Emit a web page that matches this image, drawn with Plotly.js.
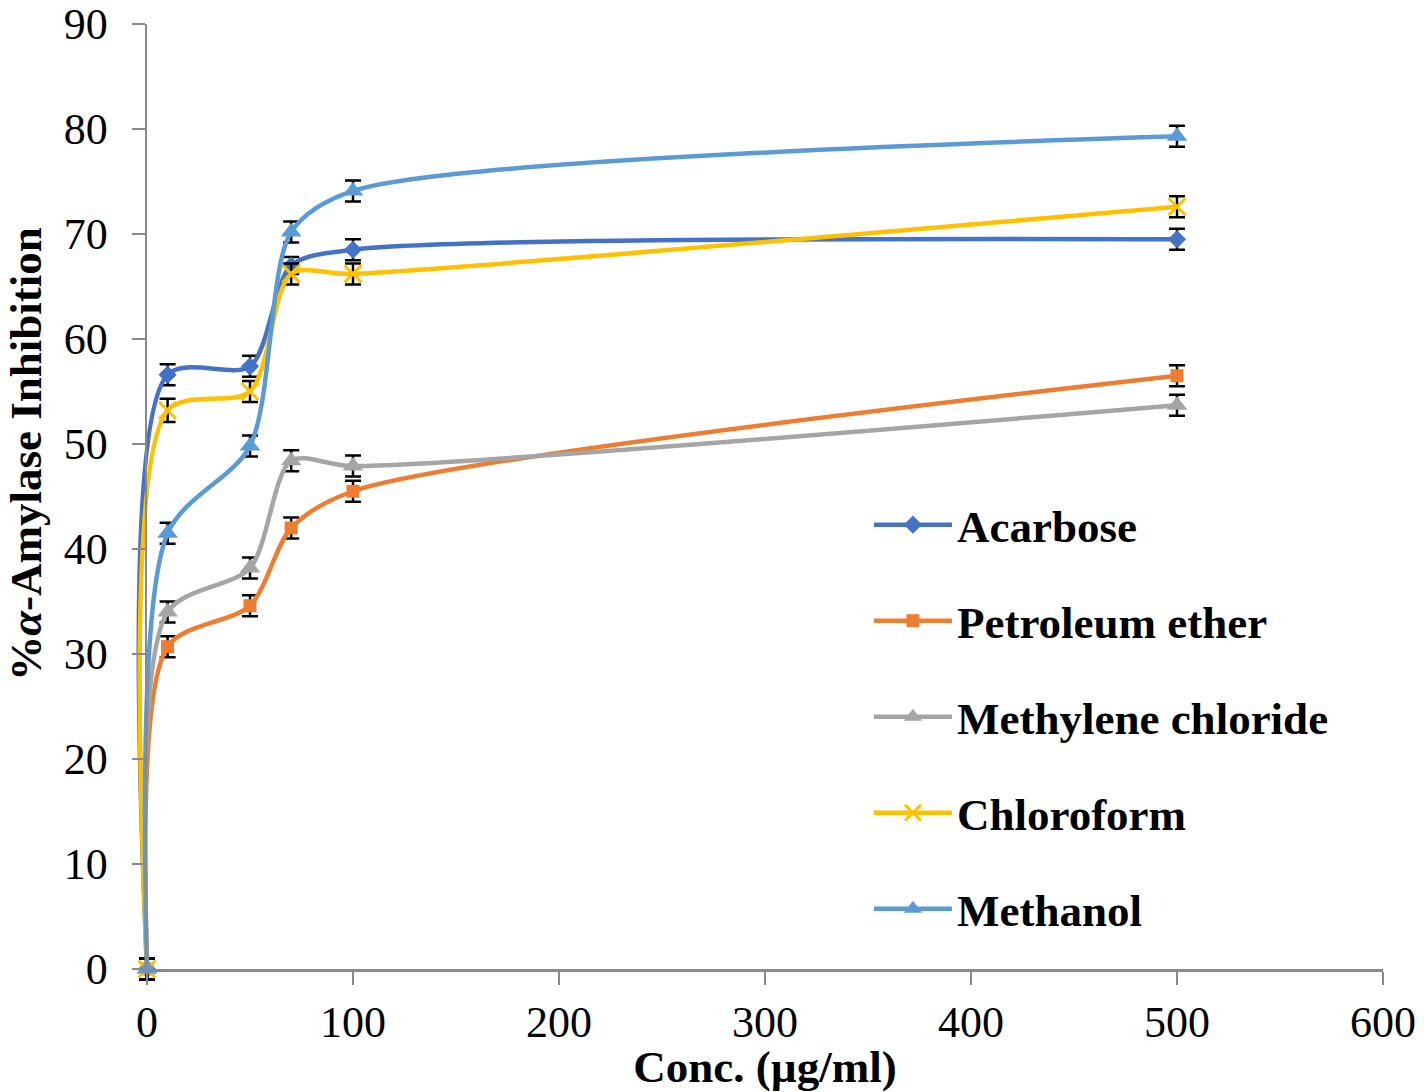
<!DOCTYPE html>
<html>
<head>
<meta charset="utf-8">
<script src="https://cdn.plot.ly/plotly-3.0.1.min.js"></script>
<style>html,body{margin:0;padding:0;background:#fff;}#chart{width:1424px;height:1092px;}</style>
</head>
<body>
<div id="chart"></div>
<script>
const conc = [0, 10, 50, 70, 100, 500];
const seriesNames = ["Acarbose", "Petroleum ether", "Methylene chloride", "Chloroform", "Methanol"];
const acarbose = [0, 56.6, 57.4, 67.0, 68.5, 69.5];
const petroleumEther = [0, 30.7, 34.6, 42.0, 45.5, 56.5];
const methyleneChloride = [0, 34.0, 38.2, 48.4, 47.9, 53.7];
const chloroform = [0, 53.2, 55.0, 66.2, 66.2, 72.6];
const methanol = [0, 41.5, 49.8, 70.2, 74.1, 79.3];
const errAcarbose = [1.0, 1.0, 1.0, 0.8, 1.0, 1.0];
const errPetroleumEther = [1.0, 1.0, 1.0, 1.0, 1.0, 1.0];
const errMethyleneChloride = [1.0, 1.0, 1.0, 1.0, 1.0, 1.0];
const errChloroform = [1.0, 1.1, 1.0, 1.0, 1.0, 1.0];
const errMethanol = [1.0, 1.0, 1.0, 1.0, 1.0, 1.0];
const xTickVals = [0, 100, 200, 300, 400, 500, 600];
const yTickVals = [0, 10, 20, 30, 40, 50, 60, 70, 80, 90];
const xTitle = "<b>Conc. (µg/ml)</b>";
const yTitle = "<b>%<i>α</i>-Amylase Inhibition</b>";

const values = [acarbose, petroleumEther, methyleneChloride, chloroform, methanol];
const errors = [errAcarbose, errPetroleumEther, errMethyleneChloride, errChloroform, errMethanol];
const colors = ["#4472C4", "#ED7D31", "#A5A5A5", "#FFC000", "#5B9BD5"];
const symbols = ["diamond", "square", "triangle-up", "x-thin-open", "triangle-up"];
const sizes = [14, 13, 18, 17, 18];

const traces = seriesNames.map((name, i) => ({
  type: "scatter",
  mode: "lines+markers",
  name: name,
  x: conc,
  y: values[i],
  legendgroup: "g" + i,
  cliponaxis: false,
  line: {color: colors[i], width: 4.5, shape: "spline", smoothing: 0.8},
  marker: {symbol: symbols[i], size: sizes[i], color: colors[i],
           line: {color: colors[i], width: symbols[i] === "x-thin-open" ? 3 : 0}},
  error_y: {type: "data", array: errors[i], visible: true, color: "#000000", thickness: 2.5, width: 8}
}));

const font = "Liberation Serif, Times New Roman, serif";
const axisColor = "#898989";
const layout = {
  width: 1424, height: 1092,
  margin: {l: 147, r: 41, t: 24, b: 123},
  paper_bgcolor: "#ffffff", plot_bgcolor: "#ffffff",
  font: {family: font, color: "#000000", size: 44},
  showlegend: true,
  legend: {
    x: 0.5841, y: 0.508, xanchor: "left", yanchor: "top",
    bgcolor: "rgba(0,0,0,0)", borderwidth: 0,
    itemwidth: 78, tracegroupgap: 34.5,
    font: {family: font, size: 45, color: "#000000", weight: "bold"}
  },
  xaxis: {
    range: [0, 600], tickvals: xTickVals, ticks: "outside", ticklen: 13, tickwidth: 2.5,
    tickcolor: axisColor, showline: true, linecolor: axisColor, linewidth: 2.5,
    showgrid: false, zeroline: false, ticklabelstandoff: 0,
    tickfont: {family: font, size: 44, color: "#000000"},
    title: {text: xTitle, font: {family: font, size: 45, color: "#000000"}, standoff: 24}
  },
  yaxis: {
    range: [0, 90], tickvals: yTickVals, ticks: "outside", ticklen: 13, tickwidth: 2.5,
    tickcolor: axisColor, showline: true, linecolor: axisColor, linewidth: 2.5,
    showgrid: false, zeroline: false, ticklabelstandoff: 15,
    tickfont: {family: font, size: 44, color: "#000000"}
  },
  annotations: [{
    text: yTitle, xref: "paper", yref: "paper", x: -0.098, y: 0.545,
    xanchor: "center", yanchor: "middle", textangle: -90, showarrow: false,
    font: {family: font, size: 45, color: "#000000"}
  }]
};

Plotly.newPlot("chart", traces, layout, {displayModeBar: false, staticPlot: true}).then(() => {
  document.querySelectorAll("#chart .scatterlayer, #chart .scatterlayer *, #chart .plot").forEach(el => el.removeAttribute("clip-path"));
});
</script>
</body>
</html>
